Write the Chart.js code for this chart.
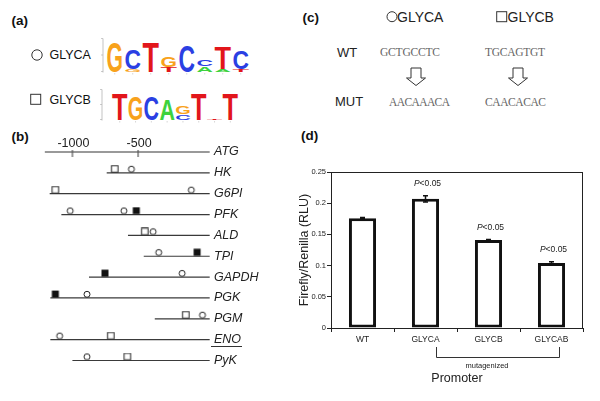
<!DOCTYPE html>
<html><head><meta charset="utf-8">
<script src="https://cdn.jsdelivr.net/npm/chart.js@4"></script>
<style>
html,body{margin:0;padding:0;background:#fff;}
#wrap{position:relative;width:600px;height:401px;overflow:hidden;}
svg{position:absolute;left:0;top:0;}
canvas{position:absolute;}
</style></head><body>
<div id="wrap">
<svg id="ov" width="600" height="401" xmlns="http://www.w3.org/2000/svg"></svg>
<canvas id="genes" width="250" height="240" style="left:20px;top:131px"></canvas>
<canvas id="bars" width="305" height="235" style="left:290px;top:165px"></canvas>
</div>
<script>
// ---------- data ----------
const motifNames = ['GLYCA', 'GLYCB'];
const wtSeqs = ['GCTGCCTC', 'TGCAGTGT'];
const mutSeqs = ['AACAAACA', 'CAACACAC'];
// sequence logos: per position, stacked letters bottom->top with heights in bits
const logoGLYCA = [
  [['G', 1.88]],
  [['G', 0.15], ['C', 1.2]],
  [['T', 1.88]],
  [['T', 0.3], ['G', 0.67]],
  [['C', 1.6]],
  [['A', 0.35], ['C', 0.4]],
  [['A', 0.15], ['T', 1.4]],
  [['T', 0.15], ['C', 1.1]]
];
const logoGLYCB = [
  [['T', 1.8]],
  [['G', 1.6]],
  [['C', 1.6]],
  [['A', 1.45]],
  [['C', 0.35], ['G', 0.55]],
  [['T', 1.8]],
  [['T', 0.06]],
  [['T', 1.8]]
];
// promoter map (bp relative to ATG)
const genes = ['ATG', 'HK', 'G6PI', 'PFK', 'ALD', 'TPI', 'GAPDH', 'PGK', 'PGM', 'ENO', 'PyK'];
const regionStart = [-1210, -739, -1173, -1084, -577, -457, -874, -1168, -373, -1168, -1000];
const regionEnd = [45, 45, 45, 45, 45, 45, 45, 45, 45, 45, 45];
const glycaSites = [['HK', -551], ['G6PI', -95], ['PFK', -1017], ['PFK', -608], ['ALD', -386], ['TPI', -343], ['GAPDH', -165], ['PGK', -889], ['PGM', -10], ['ENO', -1097], ['PyK', -889]];
const glycbSites = [['HK', -678], ['G6PI', -1130], ['ALD', -449], ['PGM', -137], ['ENO', -708], ['PyK', -582]];
const glycbFilledSites = [['PFK', -514], ['TPI', -51], ['GAPDH', -752], ['PGK', -1130]];
const rulerTicks = [-1000, -500];
const underlinedGenes = ['ENO'];
// luciferase assay
const promoters = ['WT', 'GLYCA', 'GLYCB', 'GLYCAB'];
const ratios = [0.176, 0.207, 0.141, 0.104];
const errors = [0.001, 0.005, 0.001, 0.002];
const significant = [false, true, true, true];
const yTicks = [0, 0.05, 0.1, 0.15, 0.2, 0.25];

// ---------- styles ----------
const FONT = "'Liberation Sans', Arial, Helvetica, sans-serif";
const SERIF = "'Liberation Serif', 'Times New Roman', serif";
const logoColors = {G: '#F8A21C', C: '#2B3FE3', T: '#E2161B', A: '#3DD23D'};
const NS = 'http://www.w3.org/2000/svg';
const ov = document.getElementById('ov');
function el(tag, attrs, text) {
  const e = document.createElementNS(NS, tag);
  for (const k in attrs) e.setAttribute(k, attrs[k]);
  if (text != null) e.textContent = text;
  ov.appendChild(e);
  return e;
}
function label(x, yc, str, size, o = {}) {
  const a = {x: x, y: (yc + (o.capRatio || 0.358) * size).toFixed(2), 'font-size': size, 'font-family': o.family || FONT, fill: o.fill || '#111'};
  if (o.weight) a['font-weight'] = o.weight;
  if (o.len) { a.textLength = o.len; a.lengthAdjust = 'spacing'; }
  return el('text', a, str);
}
function circle(cx, cy, r) { el('circle', {cx, cy, r, fill: 'none', stroke: '#333', 'stroke-width': 1}); }
function square(x, y, s) { el('rect', {x, y, width: s, height: s, fill: 'none', stroke: '#333', 'stroke-width': 1}); }

// ---------- panel (a) ----------
label(11.5, 20.3, '(a)', 13.5, {weight: 'bold'});
circle(37, 55, 5.2);
label(49.5, 55, motifNames[0], 12.5);
square(30.7, 94.3, 10);
label(49.5, 100, motifNames[1], 12.5);
function drawLogo(logo, x0, colW, letterW, baseY, pxPerBit, axisX) {
  el('line', {x1: axisX, y1: baseY - 2 * pxPerBit, x2: axisX, y2: baseY + 1, stroke: '#aaa', 'stroke-width': 0.7});
  [0, 1, 2].forEach(b => el('line', {x1: axisX - 2, y1: baseY - b * pxPerBit, x2: axisX, y2: baseY - b * pxPerBit, stroke: '#aaa', 'stroke-width': 0.6}));
  logo.forEach((stack, i) => {
    let yb = baseY;
    el('line', {x1: x0 + i * colW + letterW / 2, y1: baseY + 1.5, x2: x0 + i * colW + letterW / 2, y2: baseY + 3, stroke: '#bbb', 'stroke-width': 0.6});
    stack.forEach(([ch, bits]) => {
      const h = bits * pxPerBit;
      el('text', {x: x0 + i * colW, y: yb.toFixed(2), 'font-size': (h / 0.716).toFixed(2), 'font-family': FONT, 'font-weight': 'bold', fill: logoColors[ch], textLength: letterW, lengthAdjust: 'spacingAndGlyphs'}, ch);
      yb -= h;
    });
  });
}
drawLogo(logoGLYCA, 106.5, 18, 16.5, 71.5, 16.5, 103);
drawLogo(logoGLYCB, 112, 15.8, 15.5, 119.5, 15, 102);

// ---------- panel (b) / (d) labels ----------
label(11.5, 136.3, '(b)', 13.5, {weight: 'bold'});
label(301, 135.5, '(d)', 13.5, {weight: 'bold'});

// ---------- panel (c) ----------
label(302.5, 17, '(c)', 13.5, {weight: 'bold'});
circle(392, 16.7, 5);
label(397, 17, motifNames[0], 14, {fill: '#222'});
square(496.7, 11.7, 10);
label(507.5, 17, motifNames[1], 14, {fill: '#222'});
label(337, 52, 'WT', 13, {fill: '#222'});
label(335, 101.5, 'MUT', 13, {fill: '#222'});
const seqX = [380, 485];
const arrowX = [416, 518];
wtSeqs.forEach((s, i) => label(seqX[i], 52, s, 11.5, {family: SERIF, fill: '#666', capRatio: 0.33, len: 60}));
mutSeqs.forEach((s, i) => label(seqX[i] + (i === 0 ? 9 : 0), 102, s, 11.5, {family: SERIF, fill: '#666', capRatio: 0.33, len: 61}));
arrowX.forEach(cx => el('path', {d: `M${cx - 5},68 L${cx + 5},68 L${cx + 5},78 L${cx + 9.5},78 L${cx},85.5 L${cx - 9.5},78 L${cx - 5},78 Z`, fill: '#fff', stroke: '#333', 'stroke-width': 1}));

// ---------- panel (b) chart ----------
function markerImg(kind) {
  const c = document.createElement('canvas'); c.width = 16; c.height = 16;
  const g = c.getContext('2d');
  g.strokeStyle = '#222'; g.lineWidth = 1;
  if (kind === 'circle') { g.beginPath(); g.arc(8, 4.3, 3, 0, Math.PI * 2); g.fillStyle = '#fff'; g.fill(); g.stroke(); }
  else if (kind === 'square') { g.fillStyle = '#fff'; g.fillRect(4.75, 0.8, 6.5, 6.5); g.strokeRect(4.75, 0.8, 6.5, 6.5); }
  else if (kind === 'filled') { g.fillStyle = '#111'; g.fillRect(4.5, 0.6, 7, 7); }
  else if (kind === 'tick') { g.strokeStyle = '#555'; g.lineWidth = 1.2; g.beginPath(); g.moveTo(8, 6); g.lineTo(8, 13); g.stroke(); }
  return c;
}
const pts = arr => arr.map(([g, p]) => ({x: p, y: g}));
const geneDatasets = genes.map((g, i) => ({
  data: [{x: regionStart[i], y: g}, {x: regionEnd[i], y: g}],
  showLine: true, borderColor: i === 0 ? '#777' : '#3a3a3a', borderWidth: i === 0 ? 1.5 : 1.2,
  pointRadius: 0, order: 2, clip: false
}));
const markerSets = [
  {data: pts(glycaSites), pointStyle: markerImg('circle')},
  {data: pts(glycbSites), pointStyle: markerImg('square')},
  {data: pts(glycbFilledSites), pointStyle: markerImg('filled')},
  {data: rulerTicks.map(t => ({x: t, y: 'ATG'})), pointStyle: markerImg('tick')}
].map(d => Object.assign(d, {showLine: false, order: 1, clip: false, pointRadius: 8}));

new Chart(document.getElementById('genes'), {
  type: 'scatter',
  data: {datasets: markerSets.concat(geneDatasets)},
  options: {
    responsive: false, animation: false, events: [],
    layout: {padding: {left: 13, top: 21, right: 0, bottom: 9}},
    plugins: {legend: {display: false}, tooltip: {enabled: false}},
    scales: {
      x: {type: 'linear', min: -1300, max: 55, display: false},
      y: {type: 'category', labels: genes, offset: false, position: 'right',
          grid: {display: false, drawTicks: false}, border: {display: false},
          ticks: {autoSkip: false, padding: 3, color: '#222', font: {family: FONT, size: 12.5, style: 'italic'}},
          afterFit(s) { s.width = 59; }}
    }
  },
  plugins: [{
    id: 'ruler',
    afterDraw(chart) {
      const {ctx, scales: {x, y}} = chart;
      ctx.save();
      ctx.font = `12.5px ${FONT}`; ctx.fillStyle = '#222';
      ctx.textAlign = 'center'; ctx.textBaseline = 'middle';
      const yA = y.getPixelForValue('ATG');
      rulerTicks.forEach(t => ctx.fillText(String(t), x.getPixelForValue(t) + 1, yA - 8.5));
      ctx.strokeStyle = '#333'; ctx.lineWidth = 1;
      underlinedGenes.forEach(g => {
        const yy = Math.round(y.getPixelForValue(g) + 6.5) + 0.5;
        ctx.beginPath(); ctx.moveTo(x.right, yy); ctx.lineTo(x.right + 31, yy); ctx.stroke();
      });
      ctx.restore();
    }
  }]
});

// ---------- panel (d) chart ----------
new Chart(document.getElementById('bars'), {
  type: 'bar',
  data: {labels: promoters, datasets: [{
    data: ratios, backgroundColor: '#fff', borderColor: '#111', borderWidth: 3,
    borderSkipped: false, barPercentage: 0.43, categoryPercentage: 1
  }]},
  options: {
    responsive: false, animation: false, events: [],
    layout: {padding: {left: 0, top: 7, right: 12, bottom: 0}},
    plugins: {legend: {display: false}, tooltip: {enabled: false}},
    scales: {
      x: {
        grid: {offset: true, drawOnChartArea: false, tickLength: 4, color: '#222'},
        border: {color: '#222', width: 1},
        ticks: {color: '#222', font: {family: FONT, size: 8.5}, padding: 3},
        title: {display: true, text: 'Promoter', color: '#222', font: {family: FONT, size: 12.5}, padding: {top: 4, bottom: 13.5}},
        afterFit(s) { s.height = 72; }
      },
      y: {
        min: 0, max: 0.25,
        grid: {drawOnChartArea: false, tickLength: 4, color: '#222'},
        border: {color: '#222', width: 1},
        afterBuildTicks(s) { s.ticks = yTicks.map(v => ({value: v})); },
        ticks: {color: '#222', font: {family: FONT, size: 7.5}, padding: 1, callback: v => String(+v.toFixed(2))},
        title: {display: true, text: 'Firefly/Renilla (RLU)', color: '#222', font: {family: FONT, size: 12.5}, padding: {top: 7.5, bottom: 0}},
        afterFit(s) { s.width = 41; }
      }
    }
  },
  plugins: [{
    id: 'extras',
    afterDatasetsDraw(chart) {
      const {ctx, chartArea: ca, scales: {x, y}} = chart;
      const meta = chart.getDatasetMeta(0);
      ctx.save();
      // frame
      ctx.strokeStyle = '#222'; ctx.lineWidth = 1;
      ctx.strokeRect(Math.round(ca.left) + 0.5, Math.round(ca.top) + 0.5, Math.round(ca.width) - 1, Math.round(ca.height));
      // error bars
      ctx.strokeStyle = '#111'; ctx.lineWidth = 1.5;
      meta.data.forEach((bar, i) => {
        const yt = y.getPixelForValue(ratios[i] + errors[i]);
        const yb = y.getPixelForValue(ratios[i] - errors[i]);
        ctx.beginPath();
        ctx.moveTo(bar.x, yt); ctx.lineTo(bar.x, yb);
        ctx.moveTo(bar.x - 2.5, yt); ctx.lineTo(bar.x + 2.5, yt);
        ctx.moveTo(bar.x - 2.5, yb); ctx.lineTo(bar.x + 2.5, yb);
        ctx.stroke();
        if (significant[i]) {
          const yl = yt - 12;
          ctx.fillStyle = '#222'; ctx.textBaseline = 'middle'; ctx.textAlign = 'left';
          const fi = `italic 8.5px ${FONT}`, fn = `8.5px ${FONT}`;
          ctx.font = fi; const wP = ctx.measureText('P').width;
          ctx.font = fn; const wR = ctx.measureText('<0.05').width;
          const x0 = bar.x + 2 - (wP + wR) / 2;
          ctx.font = fi; ctx.fillText('P', x0, yl);
          ctx.font = fn; ctx.fillText('<0.05', x0 + wP, yl);
        }
      });
      // bracket for mutagenized promoters
      const x1 = x.getPixelForValue(1) + 10, x2 = x.getPixelForValue(3) + 7;
      const yTop = ca.bottom + 19, yBot = ca.bottom + 29;
      ctx.strokeStyle = '#333'; ctx.lineWidth = 1;
      ctx.beginPath();
      ctx.moveTo(Math.round(x1) + 0.5, yTop); ctx.lineTo(Math.round(x1) + 0.5, yBot + 0.5);
      ctx.lineTo(Math.round(x2) + 0.5, yBot + 0.5); ctx.lineTo(Math.round(x2) + 0.5, yTop);
      ctx.stroke();
      ctx.font = `7.5px ${FONT}`; ctx.fillStyle = '#222'; ctx.textAlign = 'center'; ctx.textBaseline = 'middle';
      ctx.fillText('mutagenized', (x.getPixelForValue(1) + x.getPixelForValue(3)) / 2 - 1.5, yBot + 9);
      ctx.restore();
    }
  }]
});
</script>
</body></html>
